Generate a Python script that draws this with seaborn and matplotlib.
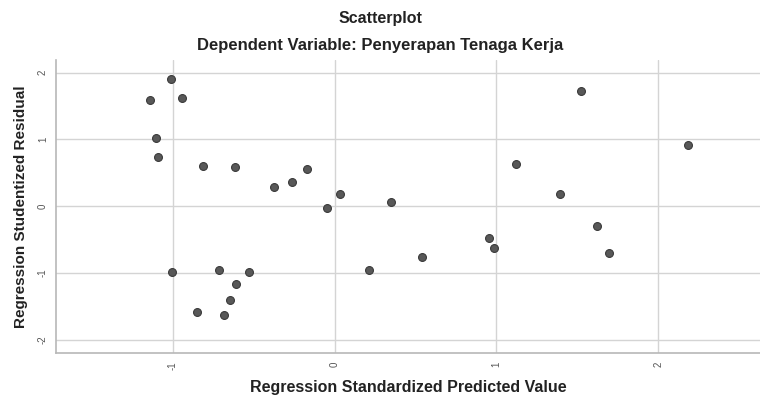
import numpy as np
import pandas as pd
import matplotlib
matplotlib.use('Agg')
import matplotlib.pyplot as plt
import seaborn as sns

# values
predicted = [-1.138, -1.010, -0.942, -1.105, -1.093, -0.812, -0.618, -0.173, -0.371, -0.262,
             0.037, -0.047, -1.003, -0.711, -0.528, -0.610, -0.649, -0.849, -0.685, 0.212,
             0.348, 0.542, 0.954, 0.983, 1.119, 1.393, 1.521, 1.622, 1.697, 2.185]
residual = [1.59, 1.90, 1.62, 1.02, 0.73, 0.60, 0.58, 0.56, 0.29, 0.37,
            0.185, -0.02, -0.99, -0.96, -0.99, -1.16, -1.40, -1.58, -1.63, -0.96,
            0.07, -0.76, -0.48, -0.62, 0.63, 0.19, 1.72, -0.30, -0.70, 0.91]
x_ticks = [-1, 0, 1, 2]
y_ticks = [-2, -1, 0, 1, 2]

df = pd.DataFrame({'pred': predicted, 'resid': residual})

sns.set_style('white')
plt.rcParams['font.family'] = ['Liberation Sans', 'DejaVu Sans']

fig = plt.figure(figsize=(7.6, 4.03), dpi=100)
ax = fig.add_axes([0.074, 0.124, 0.926, 0.727])

sns.scatterplot(data=df, x='pred', y='resid', ax=ax, s=32, color='#585858',
                edgecolor='#3a3a3a', linewidth=0.8, zorder=3)

ax.set_xlim(-1.72, 2.63)
ax.set_ylim(-2.2, 2.19)
ax.set_xticks(x_ticks)
ax.set_yticks(y_ticks)
ax.set_xticklabels([str(v) for v in x_ticks], rotation=90, fontsize=7, color='#555555')
ax.set_yticklabels([str(v) for v in y_ticks], rotation=90, va='center', fontsize=7, color='#555555')
ax.tick_params(length=0, pad=6)
ax.grid(True, color='#d4d4d4', linewidth=1.0)
ax.set_axisbelow(True)

for side in ['top', 'right']:
    ax.spines[side].set_visible(False)
for side in ['left', 'bottom']:
    ax.spines[side].set_color('#b8b8b8')
    ax.spines[side].set_linewidth(1.2)

ax.set_xlabel('Regression Standardized Predicted Value', fontsize=11.5, fontweight='bold',
              color='#222222', labelpad=7)
ax.set_ylabel('Regression Studentized Residual', fontsize=11, fontweight='bold',
              color='#222222', labelpad=7)

fig.text(0.5, 0.955, 'Scatterplot', ha='center', va='center', fontsize=11.5,
         fontweight='bold', color='#222222')
fig.text(0.5, 0.888, 'Dependent Variable: Penyerapan Tenaga Kerja', ha='center', va='center',
         fontsize=12, fontweight='bold', color='#222222')

fig.savefig('out.png', dpi=100)
plt.close(fig)
